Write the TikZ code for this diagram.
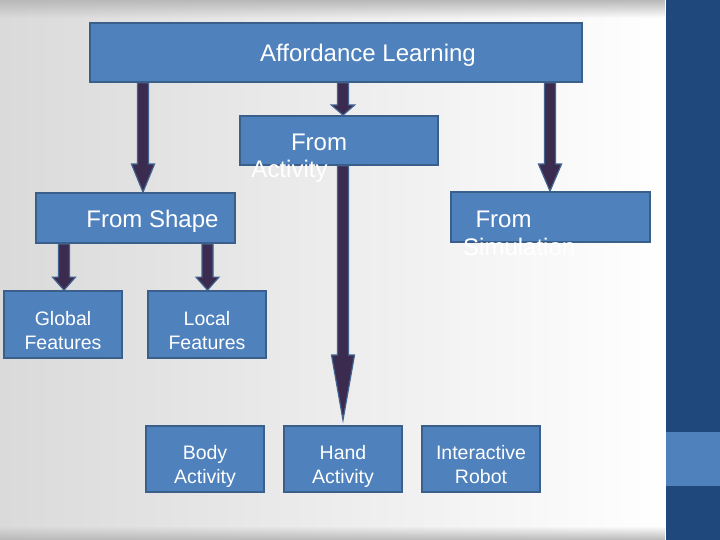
\documentclass[tikz,border=0pt]{standalone}
\usepackage{fontspec}
\setmainfont{Liberation Sans}
\usetikzlibrary{calc,fadings}
\definecolor{boxfill}{HTML}{4F81BD}
\definecolor{boxline}{HTML}{3A5F8B}
\definecolor{arrfill}{HTML}{3B2C4F}
\definecolor{arrline}{HTML}{42628F}
\definecolor{barblue}{HTML}{1F497D}
\definecolor{bgleft}{HTML}{DADADA}
% #1 start, #2 tip, #3 head length
\newcommand\myfatarrow[3]{%
  \filldraw[fatarrowstyle] ($(#1)+(-5.5,0)$) -- ($(#2)+(-5.5,-#3)$) -- ($(#2)+(-11.5,-#3)$) -- (#2)
    -- ($(#2)+(11.5,-#3)$) -- ($(#2)+(5.5,-#3)$) -- ($(#1)+(5.5,0)$) -- cycle;}
\begin{document}
\begin{tikzpicture}[x=1pt,y=-1pt,
  box/.style={draw=boxline, line width=1.8pt, fill=boxfill, inner sep=0pt},
  smallbox/.style={box, minimum width=118pt, minimum height=66pt},
  bigtxt/.style={text=white, font=\fontsize{24}{28}\selectfont, inner sep=0pt},
  smalltxt/.style={text=white, font=\fontsize{19.5}{24}\selectfont, inner sep=0pt},
  fatarrowstyle/.style={fill=arrfill, draw=arrline, line width=1.2pt, line join=miter}]
\useasboundingbox (0,0) rectangle (720,540);
% background
\fill[left color=bgleft, right color=white] (0,0) rectangle (666,540);
\fill[gray!55, path fading=south] (0,0) rectangle (666,18);
\fill[gray!55, path fading=north] (0,526) rectangle (666,540);
\fill[barblue] (666,0) rectangle (720,540);
\fill[boxfill] (666,432) rectangle (720,486);
% boxes
\node[box, minimum width=492pt, minimum height=59pt] (top) at (336,52.5) {};
\node[box, minimum width=198pt, minimum height=49pt] (act) at (339,140.5) {};
\node[box, minimum width=199pt, minimum height=50pt] (shape) at (135.5,218) {};
\node[box, minimum width=199pt, minimum height=50pt] (sim) at (550.5,217) {};
\node[smallbox, minimum height=67pt] (glob) at (63,324.5) {};
\node[smallbox, minimum height=67pt] (loc) at (207,324.5) {};
\node[smallbox] (body) at (205,459) {};
\node[smallbox] (hand) at (343,459) {};
\node[smallbox] (robot) at (481,459) {};
% texts
\node[bigtxt, anchor=base] (topT) at (368,62) {Affordance Learning};
\node[bigtxt, anchor=base] (actT1) at (319,151) {From};
\node[bigtxt, anchor=base] (actT2) at (289.5,178) {Activity};
\node[bigtxt, anchor=base] (shapeT) at (152.5,227) {From Shape};
\node[bigtxt, anchor=base] (simT1) at (503.5,227) {From};
\node[bigtxt, anchor=base west] (simT2) at (463,255) {Simulation};
\node[smalltxt, anchor=base] (globT1) at (63,325) {Global};
\node[smalltxt, anchor=base] (globT2) at (63,349) {Features};
\node[smalltxt, anchor=base] (locT1) at (207,325) {Local};
\node[smalltxt, anchor=base] (locT2) at (207,349) {Features};
\node[smalltxt, anchor=base] (bodyT1) at (205,459) {Body};
\node[smalltxt, anchor=base] (bodyT2) at (205,483) {Activity};
\node[smalltxt, anchor=base] (handT1) at (343,459) {Hand};
\node[smalltxt, anchor=base] (handT2) at (343,483) {Activity};
\node[smalltxt, anchor=base] (robotT1) at (481,459) {Interactive};
\node[smalltxt, anchor=base] (robotT2) at (481,483) {Robot};
% arrow columns
\coordinate (xa) at (143,0);
\coordinate (xb) at (343,0);
\coordinate (xc) at (550,0);
\coordinate (xd) at (64,0);
\coordinate (xe) at (207.5,0);
\coordinate (handTip) at (343,420);
% arrows
\myfatarrow{top.south -| xa}{shape.north -| xa}{28}
\myfatarrow{top.south -| xb}{act.north -| xb}{10}
\myfatarrow{top.south -| xc}{sim.north -| xc}{27}
\myfatarrow{act.south -| xb}{handTip}{65}
\myfatarrow{shape.south -| xd}{glob.north -| xd}{13}
\myfatarrow{shape.south -| xe}{loc.north -| xe}{13}
\end{tikzpicture}
\end{document}
